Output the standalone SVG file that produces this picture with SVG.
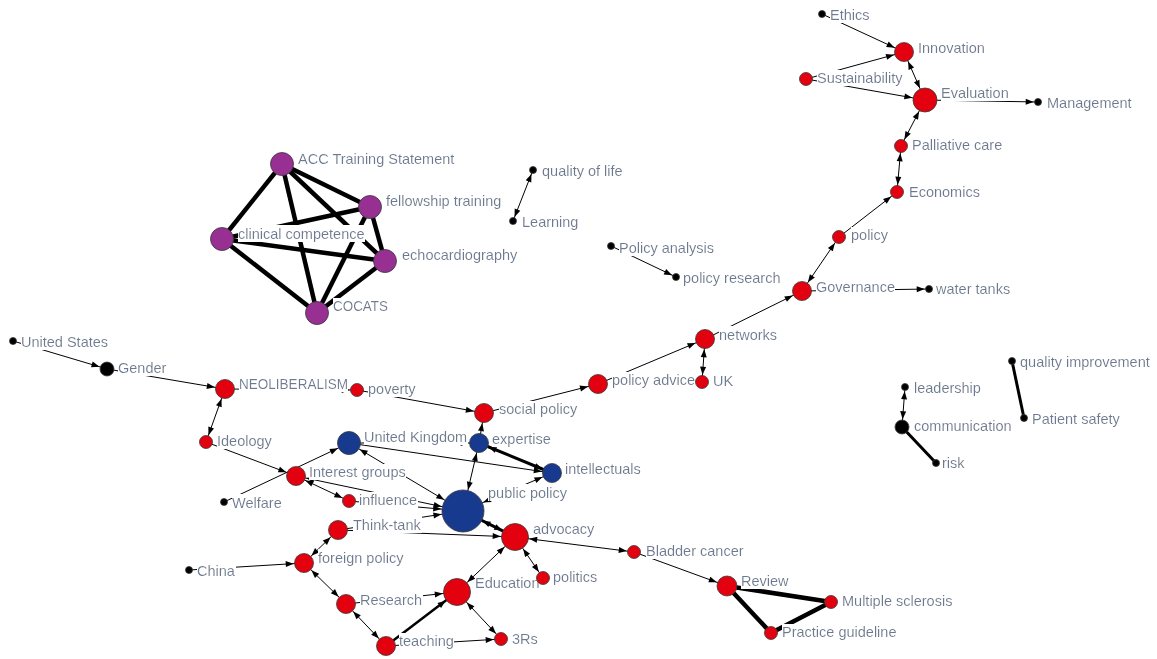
<svg xmlns="http://www.w3.org/2000/svg" width="1157" height="659" viewBox="0 0 1157 659">
<style>
.bgc{fill:#ffffff}
#edges line{stroke:#000;stroke-width:1;fill:none}
#edges line.w25{stroke-width:2.5}
#edges line.w3{stroke-width:3}
#edges line.w4{stroke-width:4.5}
.mk{fill:#000}
circle{stroke:#3a3a3a;stroke-width:0.8}
.r{fill:#e3000f}
.b{fill:#173a8e}
.p{fill:#982f93}
.k{fill:#000}
text{font-family:"Liberation Sans",Arial,sans-serif;font-size:14.5px;fill:#6b7a91}
</style>
<defs>
<filter id="bg" x="0" y="0" width="1" height="1"><feFlood flood-color="#ffffff"/><feComposite in="SourceGraphic" operator="over"/></filter>
<marker id="m35" markerUnits="userSpaceOnUse" markerWidth="8" markerHeight="6" refX="12.3" refY="3" orient="auto-start-reverse" overflow="visible"><path class="mk" d="M0,0 L8,3 L0,6 z"/></marker>
<marker id="m65" markerUnits="userSpaceOnUse" markerWidth="8" markerHeight="6" refX="15.3" refY="3" orient="auto-start-reverse" overflow="visible"><path class="mk" d="M0,0 L8,3 L0,6 z"/></marker>
<marker id="m7" markerUnits="userSpaceOnUse" markerWidth="8" markerHeight="6" refX="15.8" refY="3" orient="auto-start-reverse" overflow="visible"><path class="mk" d="M0,0 L8,3 L0,6 z"/></marker>
<marker id="m95" markerUnits="userSpaceOnUse" markerWidth="8" markerHeight="6" refX="18.3" refY="3" orient="auto-start-reverse" overflow="visible"><path class="mk" d="M0,0 L8,3 L0,6 z"/></marker>
<marker id="m10" markerUnits="userSpaceOnUse" markerWidth="8" markerHeight="6" refX="18.8" refY="3" orient="auto-start-reverse" overflow="visible"><path class="mk" d="M0,0 L8,3 L0,6 z"/></marker>
<marker id="m115" markerUnits="userSpaceOnUse" markerWidth="8" markerHeight="6" refX="20.3" refY="3" orient="auto-start-reverse" overflow="visible"><path class="mk" d="M0,0 L8,3 L0,6 z"/></marker>
<marker id="m12" markerUnits="userSpaceOnUse" markerWidth="8" markerHeight="6" refX="20.8" refY="3" orient="auto-start-reverse" overflow="visible"><path class="mk" d="M0,0 L8,3 L0,6 z"/></marker>
<marker id="m135" markerUnits="userSpaceOnUse" markerWidth="8" markerHeight="6" refX="22.3" refY="3" orient="auto-start-reverse" overflow="visible"><path class="mk" d="M0,0 L8,3 L0,6 z"/></marker>
<marker id="m21" markerUnits="userSpaceOnUse" markerWidth="8" markerHeight="6" refX="29.8" refY="3" orient="auto-start-reverse" overflow="visible"><path class="mk" d="M0,0 L8,3 L0,6 z"/></marker>
</defs>
<rect class="bgc" x="0" y="0" width="1157" height="659"/>
<g id="edges">
<line x1="822" y1="14" x2="904" y2="52" marker-end="url(#m95)"/>
<line x1="806" y1="79" x2="904" y2="52" marker-end="url(#m95)"/>
<line x1="806" y1="79" x2="925" y2="100" marker-end="url(#m12)"/>
<line x1="904" y1="52" x2="925" y2="100" marker-start="url(#m95)" marker-end="url(#m12)"/>
<line x1="925" y1="100" x2="1038" y2="102" marker-end="url(#m35)"/>
<line x1="925" y1="100" x2="901" y2="146" marker-start="url(#m12)" marker-end="url(#m65)"/>
<line x1="901" y1="146" x2="897" y2="192" marker-start="url(#m65)" marker-end="url(#m65)"/>
<line x1="839" y1="237" x2="897" y2="192" marker-end="url(#m65)"/>
<line x1="802" y1="291" x2="839" y2="237" marker-start="url(#m95)" marker-end="url(#m65)"/>
<line x1="802" y1="291" x2="929" y2="289" marker-end="url(#m35)"/>
<line x1="705" y1="339" x2="802" y2="291" marker-end="url(#m95)"/>
<line x1="705" y1="339" x2="702" y2="382" marker-start="url(#m95)" marker-end="url(#m65)"/>
<line x1="598" y1="384" x2="705" y2="339" marker-end="url(#m95)"/>
<line x1="484" y1="413" x2="598" y2="384" marker-end="url(#m95)"/>
<line x1="357" y1="390" x2="484" y2="413" marker-end="url(#m95)"/>
<line x1="225" y1="389" x2="357" y2="390" marker-end="url(#m65)"/>
<line x1="107" y1="369" x2="225" y2="389" marker-end="url(#m95)"/>
<line x1="13" y1="341" x2="107" y2="369" marker-end="url(#m7)"/>
<line x1="225" y1="389" x2="206" y2="442" marker-start="url(#m95)" marker-end="url(#m65)"/>
<line x1="206" y1="442" x2="296" y2="476" marker-end="url(#m95)"/>
<line x1="224" y1="502" x2="349" y2="443" marker-end="url(#m115)"/>
<line x1="296" y1="476" x2="349" y2="501" marker-start="url(#m95)" marker-end="url(#m65)"/>
<line x1="296" y1="476" x2="463" y2="511" marker-start="url(#m95)" marker-end="url(#m21)"/>
<line x1="349" y1="443" x2="463" y2="511" marker-start="url(#m115)" marker-end="url(#m21)"/>
<line x1="349" y1="443" x2="552" y2="473" marker-end="url(#m95)"/>
<line x1="349" y1="443" x2="479" y2="443" marker-end="url(#m95)"/>
<line class="w3" x1="479" y1="443" x2="552" y2="473" marker-start="url(#m95)" marker-end="url(#m95)"/>
<line x1="463" y1="511" x2="552" y2="473" marker-start="url(#m21)" marker-end="url(#m95)"/>
<line x1="479" y1="443" x2="463" y2="511" marker-start="url(#m95)" marker-end="url(#m21)"/>
<line x1="479" y1="443" x2="484" y2="413" marker-end="url(#m95)"/>
<line x1="349" y1="501" x2="463" y2="511" marker-end="url(#m21)"/>
<line x1="338" y1="530" x2="463" y2="511" marker-end="url(#m21)"/>
<line x1="338" y1="530" x2="515" y2="537" marker-end="url(#m135)"/>
<line class="w3" x1="463" y1="511" x2="515" y2="537" marker-start="url(#m21)" marker-end="url(#m135)"/>
<line x1="634" y1="552" x2="515" y2="537" marker-start="url(#m65)" marker-end="url(#m135)"/>
<line x1="515" y1="537" x2="543" y2="578" marker-start="url(#m135)" marker-end="url(#m65)"/>
<line x1="457" y1="592" x2="515" y2="537" marker-start="url(#m135)" marker-end="url(#m135)"/>
<line x1="346" y1="604" x2="457" y2="592" marker-end="url(#m135)"/>
<line class="w25" x1="386" y1="646" x2="457" y2="592" marker-end="url(#m135)"/>
<line x1="386" y1="646" x2="501" y2="639" marker-end="url(#m65)"/>
<line x1="457" y1="592" x2="501" y2="639" marker-start="url(#m135)" marker-end="url(#m65)"/>
<line x1="346" y1="604" x2="386" y2="646" marker-start="url(#m95)" marker-end="url(#m95)"/>
<line x1="304" y1="563" x2="346" y2="604" marker-start="url(#m95)" marker-end="url(#m95)"/>
<line x1="304" y1="563" x2="338" y2="530" marker-start="url(#m95)" marker-end="url(#m95)"/>
<line x1="189" y1="570" x2="304" y2="563" marker-end="url(#m95)"/>
<line x1="634" y1="552" x2="727" y2="586" marker-end="url(#m10)"/>
<line class="w4" x1="727" y1="586" x2="831" y2="602"/>
<line class="w4" x1="727" y1="586" x2="771" y2="633"/>
<line class="w4" x1="831" y1="602" x2="771" y2="633"/>
<line class="w4" x1="282" y1="164" x2="370" y2="207"/>
<line class="w4" x1="282" y1="164" x2="222" y2="239"/>
<line class="w4" x1="282" y1="164" x2="385" y2="261"/>
<line class="w4" x1="282" y1="164" x2="317" y2="313"/>
<line class="w4" x1="370" y1="207" x2="222" y2="239"/>
<line class="w4" x1="370" y1="207" x2="385" y2="261"/>
<line class="w4" x1="370" y1="207" x2="317" y2="313"/>
<line class="w4" x1="222" y1="239" x2="385" y2="261"/>
<line class="w4" x1="222" y1="239" x2="317" y2="313"/>
<line class="w4" x1="385" y1="261" x2="317" y2="313"/>
<line x1="533" y1="170" x2="513" y2="221" marker-start="url(#m35)" marker-end="url(#m35)"/>
<line x1="611" y1="246" x2="676" y2="277" marker-end="url(#m35)"/>
<line class="w3" x1="1012" y1="361" x2="1024" y2="418"/>
<line x1="905" y1="387" x2="902" y2="427" marker-start="url(#m35)" marker-end="url(#m7)"/>
<line class="w3" x1="902" y1="427" x2="936" y2="463"/>
</g>
<g id="labels">
<text filter="url(#bg)" x="830" y="20">Ethics</text>
<text filter="url(#bg)" x="918" y="53">Innovation</text>
<text filter="url(#bg)" x="817" y="83">Sustainability</text>
<text filter="url(#bg)" x="941" y="98">Evaluation</text>
<text filter="url(#bg)" x="1047" y="108">Management</text>
<text filter="url(#bg)" x="912" y="150">Palliative care</text>
<text filter="url(#bg)" x="909" y="197">Economics</text>
<text filter="url(#bg)" x="851" y="240">policy</text>
<text filter="url(#bg)" x="816" y="292">Governance</text>
<text filter="url(#bg)" x="936" y="294">water tanks</text>
<text filter="url(#bg)" x="719" y="339.5">networks</text>
<text filter="url(#bg)" x="713" y="385.5">UK</text>
<text filter="url(#bg)" x="612" y="385">policy advice</text>
<text filter="url(#bg)" x="499" y="414">social policy</text>
<text filter="url(#bg)" x="368" y="394">poverty</text>
<text filter="url(#bg)" x="239" y="389" textLength="109" lengthAdjust="spacingAndGlyphs">NEOLIBERALISM</text>
<text filter="url(#bg)" x="118" y="372.5">Gender</text>
<text filter="url(#bg)" x="21" y="346.5">United States</text>
<text filter="url(#bg)" x="217" y="445.5">Ideology</text>
<text filter="url(#bg)" x="309" y="477">Interest groups</text>
<text filter="url(#bg)" x="232" y="507.5">Welfare</text>
<text filter="url(#bg)" x="359" y="505">influence</text>
<text filter="url(#bg)" x="364" y="442">United Kingdom</text>
<text filter="url(#bg)" x="492" y="444">expertise</text>
<text filter="url(#bg)" x="565" y="474">intellectuals</text>
<text filter="url(#bg)" x="488" y="497.5">public policy</text>
<text filter="url(#bg)" x="353" y="529.5">Think-tank</text>
<text filter="url(#bg)" x="533" y="534">advocacy</text>
<text filter="url(#bg)" x="197" y="576">China</text>
<text filter="url(#bg)" x="318" y="562.5">foreign policy</text>
<text filter="url(#bg)" x="553" y="582">politics</text>
<text filter="url(#bg)" x="475" y="588">Education</text>
<text filter="url(#bg)" x="360" y="605">Research</text>
<text filter="url(#bg)" x="399" y="646">teaching</text>
<text filter="url(#bg)" x="512" y="643.5">3Rs</text>
<text filter="url(#bg)" x="646" y="556">Bladder cancer</text>
<text filter="url(#bg)" x="741" y="586">Review</text>
<text filter="url(#bg)" x="842" y="606">Multiple sclerosis</text>
<text filter="url(#bg)" x="782" y="637">Practice guideline</text>
<text filter="url(#bg)" x="298" y="163.5">ACC Training Statement</text>
<text filter="url(#bg)" x="386" y="205.5">fellowship training</text>
<text filter="url(#bg)" x="238" y="238.5">clinical competence</text>
<text filter="url(#bg)" x="402" y="259.5">echocardiography</text>
<text filter="url(#bg)" x="333" y="311" textLength="55" lengthAdjust="spacingAndGlyphs">COCATS</text>
<text filter="url(#bg)" x="542" y="176">quality of life</text>
<text filter="url(#bg)" x="522" y="227">Learning</text>
<text filter="url(#bg)" x="619" y="252.5">Policy analysis</text>
<text filter="url(#bg)" x="683" y="282.5">policy research</text>
<text filter="url(#bg)" x="1020" y="366.5">quality improvement</text>
<text filter="url(#bg)" x="914" y="392.5">leadership</text>
<text filter="url(#bg)" x="914" y="431">communication</text>
<text filter="url(#bg)" x="1032" y="424">Patient safety</text>
<text filter="url(#bg)" x="942" y="468">risk</text>
</g>
<g id="nodes">
<g id="n-ethics"><circle class="k" cx="822" cy="14" r="3.5"/></g>
<g id="n-innovation"><circle class="r" cx="904" cy="52" r="9.5"/></g>
<g id="n-sustainability"><circle class="r" cx="806" cy="79" r="6.5"/></g>
<g id="n-evaluation"><circle class="r" cx="925" cy="100" r="12"/></g>
<g id="n-management"><circle class="k" cx="1038" cy="102" r="3.5"/></g>
<g id="n-palliative"><circle class="r" cx="901" cy="146" r="6.5"/></g>
<g id="n-economics"><circle class="r" cx="897" cy="192" r="6.5"/></g>
<g id="n-policy"><circle class="r" cx="839" cy="237" r="6.5"/></g>
<g id="n-governance"><circle class="r" cx="802" cy="291" r="9.5"/></g>
<g id="n-watertanks"><circle class="k" cx="929" cy="289" r="3.5"/></g>
<g id="n-networks"><circle class="r" cx="705" cy="339" r="9.5"/></g>
<g id="n-uk"><circle class="r" cx="702" cy="382" r="6.5"/></g>
<g id="n-policyadvice"><circle class="r" cx="598" cy="384" r="9.5"/></g>
<g id="n-socialpolicy"><circle class="r" cx="484" cy="413" r="9.5"/></g>
<g id="n-poverty"><circle class="r" cx="357" cy="390" r="6.5"/></g>
<g id="n-neoliberalism"><circle class="r" cx="225" cy="389" r="9.5"/></g>
<g id="n-gender"><circle class="k" cx="107" cy="369" r="7"/></g>
<g id="n-unitedstates"><circle class="k" cx="13" cy="341" r="3.5"/></g>
<g id="n-ideology"><circle class="r" cx="206" cy="442" r="6.5"/></g>
<g id="n-interestgroups"><circle class="r" cx="296" cy="476" r="9.5"/></g>
<g id="n-welfare"><circle class="k" cx="224" cy="502" r="3.5"/></g>
<g id="n-influence"><circle class="r" cx="349" cy="501" r="6.5"/></g>
<g id="n-unitedkingdom"><circle class="b" cx="349" cy="443" r="11.5"/></g>
<g id="n-expertise"><circle class="b" cx="479" cy="443" r="9.5"/></g>
<g id="n-intellectuals"><circle class="b" cx="552" cy="473" r="9.5"/></g>
<g id="n-publicpolicy"><circle class="b" cx="463" cy="511" r="21"/></g>
<g id="n-thinktank"><circle class="r" cx="338" cy="530" r="9.5"/></g>
<g id="n-advocacy"><circle class="r" cx="515" cy="537" r="13.5"/></g>
<g id="n-china"><circle class="k" cx="189" cy="570" r="3.5"/></g>
<g id="n-foreignpolicy"><circle class="r" cx="304" cy="563" r="9.5"/></g>
<g id="n-politics"><circle class="r" cx="543" cy="578" r="6.5"/></g>
<g id="n-education"><circle class="r" cx="457" cy="592" r="13.5"/></g>
<g id="n-research"><circle class="r" cx="346" cy="604" r="9.5"/></g>
<g id="n-teaching"><circle class="r" cx="386" cy="646" r="9.5"/></g>
<g id="n-3rs"><circle class="r" cx="501" cy="639" r="6.5"/></g>
<g id="n-bladder"><circle class="r" cx="634" cy="552" r="6.5"/></g>
<g id="n-review"><circle class="r" cx="727" cy="586" r="10"/></g>
<g id="n-ms"><circle class="r" cx="831" cy="602" r="6.5"/></g>
<g id="n-practice"><circle class="r" cx="771" cy="633" r="6.5"/></g>
<g id="n-acc"><circle class="p" cx="282" cy="164" r="11.5"/></g>
<g id="n-fellowship"><circle class="p" cx="370" cy="207" r="11.5"/></g>
<g id="n-clinical"><circle class="p" cx="222" cy="239" r="11.5"/></g>
<g id="n-echo"><circle class="p" cx="385" cy="261" r="11.5"/></g>
<g id="n-cocats"><circle class="p" cx="317" cy="313" r="11.5"/></g>
<g id="n-qol"><circle class="k" cx="533" cy="170" r="3.5"/></g>
<g id="n-learning"><circle class="k" cx="513" cy="221" r="3.5"/></g>
<g id="n-policyanalysis"><circle class="k" cx="611" cy="246" r="3.5"/></g>
<g id="n-policyresearch"><circle class="k" cx="676" cy="277" r="3.5"/></g>
<g id="n-qi"><circle class="k" cx="1012" cy="361" r="3.5"/></g>
<g id="n-patientsafety"><circle class="k" cx="1024" cy="418" r="3.5"/></g>
<g id="n-leadership"><circle class="k" cx="905" cy="387" r="3.5"/></g>
<g id="n-communication"><circle class="k" cx="902" cy="427" r="7"/></g>
<g id="n-risk"><circle class="k" cx="936" cy="463" r="3.5"/></g>
</g>
</svg>
